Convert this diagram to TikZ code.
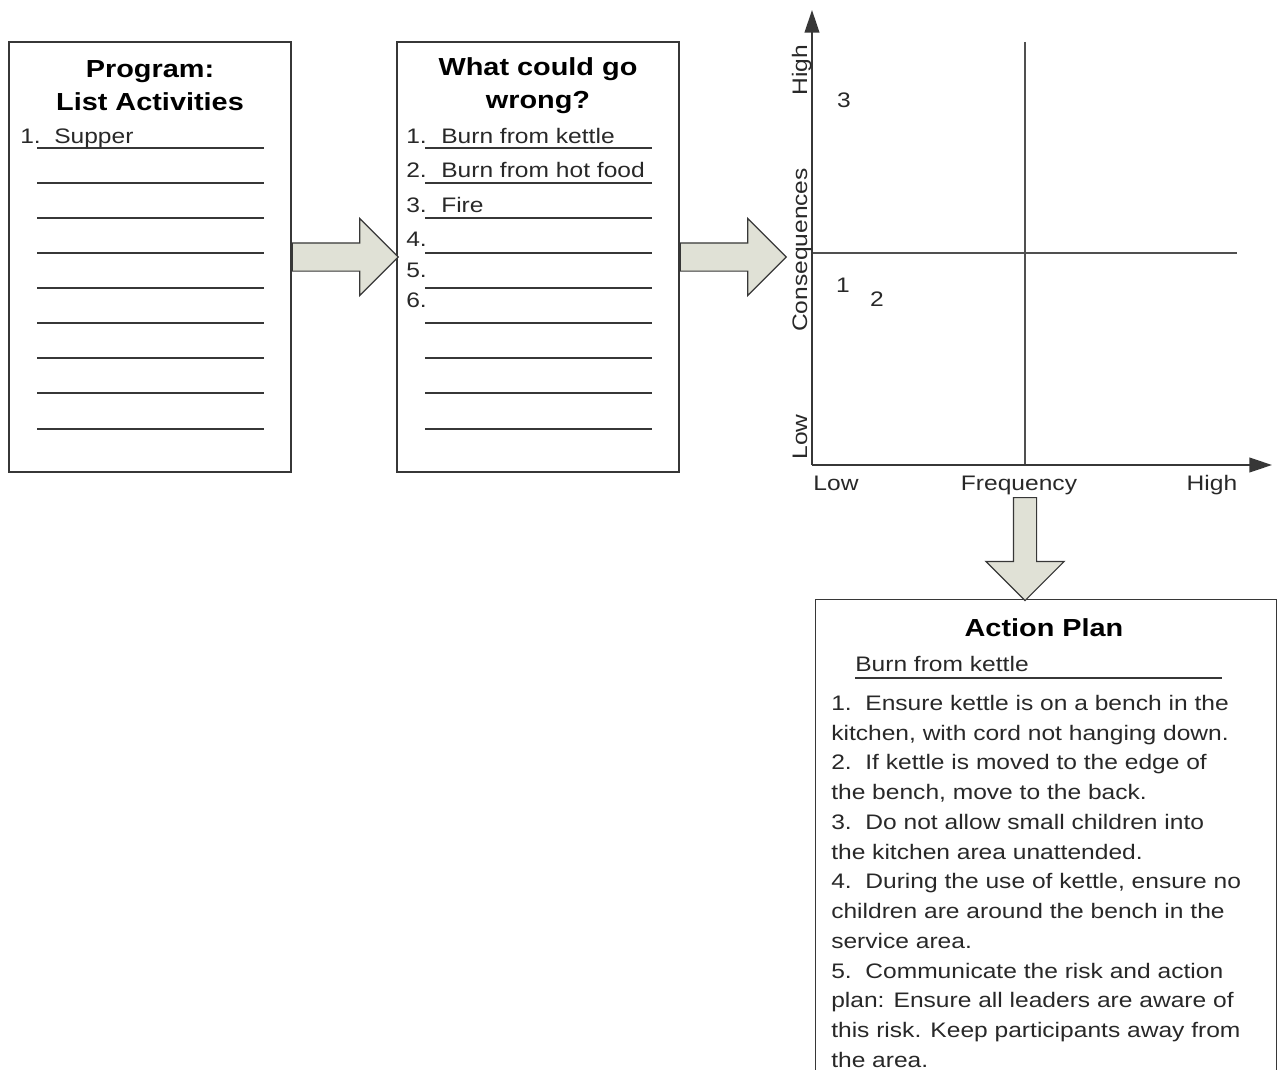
\documentclass[tikz,border=0pt]{standalone}
\usepackage{fontspec}
\setmainfont{Liberation Sans}[FakeStretch=1.17]
\usepackage{xcolor}
\usetikzlibrary{arrows.meta, positioning, shapes.arrows}

\definecolor{inkline}{RGB}{55,55,55}
\definecolor{inktext}{RGB}{40,40,40}
\definecolor{arrowfill}{RGB}{224,225,214}
\definecolor{gridline}{RGB}{80,80,80}

\begin{document}
\begin{tikzpicture}[
  x=0.75pt, y=-0.75pt,
  sheet/.style={draw=inkline, line width=1.1pt, minimum width=211.5pt, minimum height=322.5pt, inner sep=0pt},
  title/.style={align=center, inner sep=0pt, text=black, font=\bfseries\fontsize{18.5}{24.75}\selectfont},
  item/.style={anchor=base west, inner sep=0pt, text=inktext, font=\fontsize{15.75}{19}\selectfont},
  tag/.style={anchor=base, inner sep=0pt, text=inktext, font=\fontsize{15.75}{19}\selectfont},
  rule/.style={draw=inkline, line width=1.1pt},
  blockarrow/.style={single arrow, draw=inkline, fill=arrowfill, line width=0.9pt, anchor=tail,
    inner sep=10.125pt, minimum width=0pt, single arrow head extend=18.4pt, minimum height=79.5pt},
  axis/.style={draw=inkline, line width=1.5pt, -{Triangle[length=17pt, width=11pt]}},
  divider/.style={draw=gridline, line width=1.5pt}
]
\useasboundingbox (0,0) rectangle (1278,1070);

% the two lists
\node[sheet] (prog) at (150,257) {};
\node[sheet] (wrong) at (538,257) {};
\node[title] (progtitle) at (150,86) {Program:\\List Activities};
\node[title] (wrongtitle) at (538,86) {What could go\\wrong?};
\foreach \y in {148,183,218,253,288,323,358,393,429} {
  \draw[rule] (37,\y) -- (264,\y);
  \draw[rule] (425,\y) -- (652,\y);
}
\node[item] (p1num) at (20,144) {1.};
\node[item] (p1) at (54,144) {Supper};
\foreach \n/\y in {1/144, 2/178, 3/213, 4/247, 5/277, 6/307}
  \node[item] (w\n num) at (406,\y) {\n.};
\node[item] (w1) at (441,144) {Burn from kettle};
\node[item] (w2) at (441,178) {Burn from hot food};
\node[item] (w3) at (441,213) {Fire};

% risk matrix
\coordinate (origin) at (812,465);
\coordinate (ytop) at (812,10);
\coordinate (xend) at (1272,465);
\draw[divider] (1025,42) -- (1025,465);
\draw[divider] (812,253) -- (1237,253);
\draw[axis] (origin) -- (ytop);
\draw[axis] (origin) -- (xend);
\node[tag, rotate=90] (yhigh) at (807,70) {High};
\node[tag, rotate=90] (consq) at (807,250) {Consequences};
\node[tag, rotate=90] (ylow) at (807,437) {Low};
\node[tag] (xlow) at (836,490) {Low};
\node[tag] (freq) at (1019,490) {Frequency};
\node[tag] (xhigh) at (1212,490) {High};
\node[tag] (r3) at (844,108) {3};
\node[tag] (r1) at (843,292) {1};
\node[tag] (r2) at (877,306) {2};

% action plan
\node[minimum width=345pt, minimum height=352.5pt, inner sep=0pt] (plan) at (1046,835) {};
\draw[rule] (plan.south west) |- (plan.north east) -- (plan.south east);
\node[title] (plantitle) at (1044,628) {Action Plan};
\node[item] (hazard) at (855,671) {Burn from kettle};
\draw[rule] (855,678) -- (1222,678);
\node[anchor=north west, align=left, inner sep=0pt, text=inktext,
      font=\fontsize{15.75}{22.3}\selectfont] (steps) at (831,695) {%
1.\ \ Ensure kettle is on a bench in the\\
kitchen, with cord not hanging down.\\
2.\ \ If kettle is moved to the edge of\\
the bench, move to the back.\\
3.\ \ Do not allow small children into\\
the kitchen area unattended.\\
4.\ \ During the use of kettle, ensure no\\
children are around the bench in the\\
service area.\\
5.\ \ Communicate the risk and action\\
plan: Ensure all leaders are aware of\\
this risk. Keep participants away from\\
the area.};

% block arrows
\node[blockarrow] (arr1) at (prog.east) {};
\node[blockarrow] (arr2) at (wrong.east) {};
\node[blockarrow, shape border rotate=270, inner sep=8.25pt, single arrow head extend=20.6pt,
      minimum height=77.25pt] (arr3) at (1025,497) {};
\end{tikzpicture}
\end{document}
